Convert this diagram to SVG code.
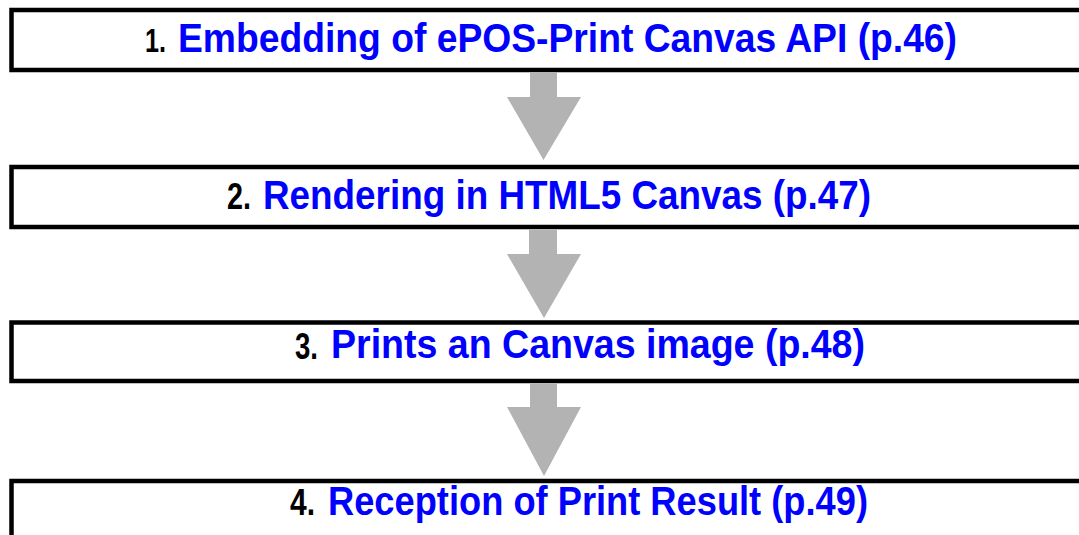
<svg xmlns="http://www.w3.org/2000/svg" width="1079" height="535" viewBox="0 0 1079 535">
<style>
.box{fill:#fff;stroke:#000;stroke-width:4.5}
.num{font-family:"Liberation Sans",Arial,sans-serif;font-weight:bold;fill:#000}
.lbl{font-family:"Liberation Sans",Arial,sans-serif;font-weight:bold;fill:#0000ff;font-size:40px}
.arr{fill:#b3b3b3}
</style>
<rect width="1079" height="535" fill="#fff"/>
<g id="step1">
<rect class="box" x="11.5" y="10" width="1100" height="60"/>
<text class="num" x="145" y="52" font-size="34" textLength="21" lengthAdjust="spacingAndGlyphs">1.</text>
<text class="lbl" x="178" y="52" textLength="779" lengthAdjust="spacingAndGlyphs">Embedding of ePOS-Print Canvas API (p.46)</text>
</g>
<g id="step2">
<rect class="box" x="11.5" y="167" width="1100" height="60"/>
<text class="num" x="227" y="209" font-size="36" textLength="24" lengthAdjust="spacingAndGlyphs">2.</text>
<text class="lbl" x="263" y="209" textLength="608" lengthAdjust="spacingAndGlyphs">Rendering in HTML5 Canvas (p.47)</text>
</g>
<g id="step3">
<rect class="box" x="11.5" y="322.5" width="1100" height="58.5"/>
<text class="num" x="295" y="359" font-size="36" textLength="23" lengthAdjust="spacingAndGlyphs">3.</text>
<text class="lbl" x="331" y="358" textLength="534" lengthAdjust="spacingAndGlyphs">Prints an Canvas image (p.48)</text>
</g>
<g id="step4">
<rect class="box" x="11.5" y="481" width="1100" height="100"/>
<text class="num" x="290" y="515" font-size="36" textLength="25" lengthAdjust="spacingAndGlyphs">4.</text>
<text class="lbl" x="328" y="515" textLength="540" lengthAdjust="spacingAndGlyphs">Reception of Print Result (p.49)</text>
</g>
<g id="connectors">
<polygon class="arr" points="530,72 557,72 557,97 581,97 543.5,160 507,97 530,97"/>
<polygon class="arr" points="529,229.5 557,229.5 557,254 581,254 544,318 507,254 529,254"/>
<polygon class="arr" points="530,383.5 557,383.5 557,407 581,407 544,476 507,407 530,407"/>
</g>
</svg>
